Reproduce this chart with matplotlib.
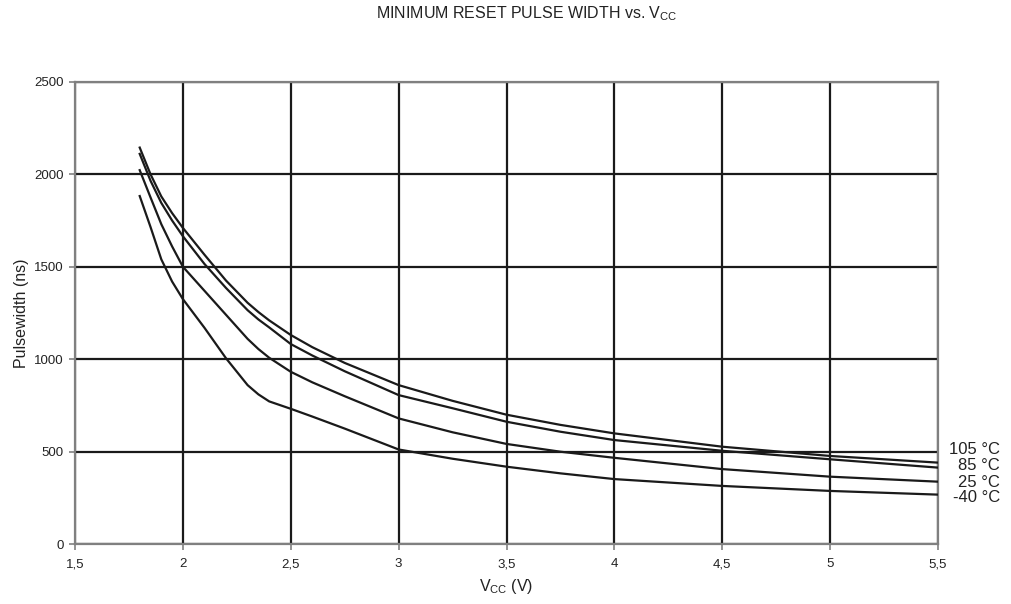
import matplotlib
matplotlib.use("Agg")
import matplotlib.pyplot as plt
from matplotlib.ticker import FuncFormatter, MultipleLocator
import matplotlib.transforms as mtransforms

plt.rcParams["font.family"] = ["Liberation Sans", "DejaVu Sans"]
plt.rcParams["mathtext.default"] = "regular"

# ------------------------------------------------------------
# data (Vcc in V, pulse width in ns)
# ------------------------------------------------------------
vcc = [1.8, 1.85, 1.9, 1.95, 2.0, 2.1, 2.2, 2.3, 2.35, 2.4, 2.5, 2.6, 2.75,
       3.0, 3.25, 3.5, 3.75, 4.0, 4.5, 5.0, 5.5]

pw_105 = [2144, 2000, 1880, 1790, 1710, 1565, 1425, 1305, 1255, 1210, 1131,
          1065, 980, 860, 775, 700, 645, 599, 527, 477, 441]
pw_85 = [2110, 1965, 1845, 1750, 1665, 1515, 1385, 1265, 1215, 1172, 1082,
         1020, 935, 806, 735, 662, 608, 563, 505, 459, 414]
pw_25 = [2022, 1875, 1730, 1610, 1500, 1370, 1240, 1110, 1055, 1008, 932,
         875, 800, 680, 605, 542, 500, 467, 406, 365, 338]
pw_m40 = [1882, 1715, 1540, 1420, 1325, 1170, 1005, 860, 810, 772, 732,
          690, 625, 512, 462, 419, 383, 352, 315, 288, 268]

series = [pw_105, pw_85, pw_25, pw_m40]
temp_labels = ["105 °C", "85 °C", "25 °C", "-40 °C"]
label_values = [513, 428, 332, 253]

# ------------------------------------------------------------
# figure
# ------------------------------------------------------------
fig = plt.figure(figsize=(10.12, 6.04), dpi=100)
ax = fig.add_axes([0.0741, 0.099, 0.8528, 0.7657])

for ys in series:
    ax.plot(vcc, ys, color="#1a1a1a", lw=1.6, solid_joinstyle="round", zorder=3)

ax.set_xlim(1.5, 5.5)
ax.set_ylim(0, 2500)
ax.xaxis.set_major_locator(MultipleLocator(0.5))
ax.yaxis.set_major_locator(MultipleLocator(500))
ax.xaxis.set_major_formatter(FuncFormatter(lambda v, p: f"{v:g}".replace(".", ",")))

ax.set_axisbelow(True)
ax.grid(True, color="#1a1a1a", lw=1.6)

for s in ax.spines.values():
    s.set_color("#808080")
    s.set_linewidth(1.6)

ax.tick_params(axis="both", colors="#808080", labelcolor="#222222",
               length=4, width=1.2, labelsize=9.5)
ax.tick_params(axis="x", pad=6)
ax.tick_params(axis="y", pad=4)

ax.set_xlabel("V$_{CC}$ (V)", fontsize=11.5, color="#222222", labelpad=5)
ax.set_ylabel("Pulsewidth (ns)", fontsize=11.5, color="#222222", labelpad=4)

fig.text(0.52, 1 - 14 / 604, "MINIMUM RESET PULSE WIDTH vs. V$_{CC}$",
         ha="center", va="center", fontsize=11.5, color="#222222")

trans = mtransforms.blended_transform_factory(ax.transAxes, ax.transData)
for lab, yv in zip(temp_labels, label_values):
    ax.text(1.0718, yv, lab, transform=trans, ha="right", va="center",
            fontsize=12, color="#222222", clip_on=False)

fig.savefig("out.png", dpi=100)
